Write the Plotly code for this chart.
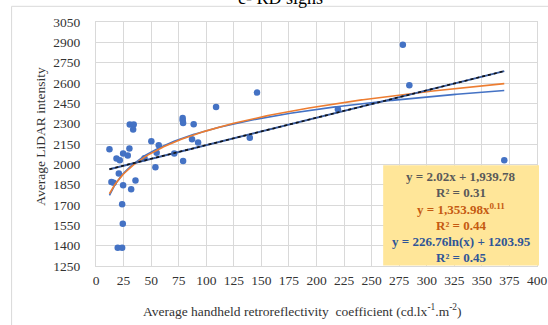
import numpy as np
import plotly.graph_objects as go

# ---- data ----
retro = [12.2, 14.0, 16.0, 18.6, 21.6, 20.7, 24.6, 28.8, 30.3, 30.6, 34.2, 33.7,
         24.6, 31.9, 35.8, 23.7, 24.3, 19.7, 23.7, 50.2, 53.9, 56.9, 44.0, 55.0,
         71.0, 78.6, 78.6, 79.0, 79.0, 87.1, 88.6, 92.6, 108.9, 139.5, 146.0,
         219.4, 278.3, 284.2, 370.3]
intensity = [2111, 1870, 1865, 2043, 2030, 1932, 2080, 2065, 2117, 2293, 2293, 2257,
             1846, 1817, 1881, 1706, 1561, 1384, 1384, 2171, 1979, 2141, 2045, 2085,
             2080, 2342, 2325, 2305, 2025, 2185, 2296, 2161, 2423, 2196, 2529,
             2406, 2883, 2583, 2030]

lin_coef = [2.02, 1939.78]        # y = a x + b
pow_coef = [1353.98, 0.11]        # y = a x^b
log_coef = [226.76, 1203.95]      # y = a ln(x) + b

x_ticks = list(range(0, 401, 25))
y_ticks = list(range(1250, 3051, 150))

eq_lines = ["y = 2.02x + 1,939.78", "R² = 0.31",
            "y = 1,353.98x<sup>0.11</sup>", "R² = 0.44",
            "y = 226.76ln(x) + 1203.95", "R² = 0.45"]

# ---- layout geometry (pixels) ----
W, H = 548, 325
L, R, T, B = 95.5, 11, 21.7, 59.1
pw, ph = W - L - R, H - T - B

def px(x):
    return (x - L) / pw

def py(y):
    return (H - B - y) / ph

xs = np.linspace(min(retro), max(retro), 300)
y_lin = lin_coef[0] * xs + lin_coef[1]
y_pow = pow_coef[0] * xs ** pow_coef[1]
y_log = log_coef[0] * np.log(xs) + log_coef[1]

fig = go.Figure()
fig.add_trace(go.Scatter(x=retro, y=intensity, mode="markers",
                         marker=dict(color="#4472C4", size=6.5), hoverinfo="skip"))
fig.add_trace(go.Scatter(x=xs, y=y_log, mode="lines",
                         line=dict(color="#4472C4", width=1.6), hoverinfo="skip"))
fig.add_trace(go.Scatter(x=xs, y=y_pow, mode="lines",
                         line=dict(color="#ED7D31", width=1.6), hoverinfo="skip"))
fig.add_trace(go.Scatter(x=xs, y=y_lin, mode="lines",
                         line=dict(color="#3A5C9E", width=2), hoverinfo="skip"))
fig.add_trace(go.Scatter(x=xs, y=y_lin, mode="lines",
                         line=dict(color="#111111", width=1.6, dash="dot"), hoverinfo="skip"))

tickfont = dict(family="Liberation Serif", size=13.5, color="#333333")
grid = "#D9D9D9"
fig.update_xaxes(range=[0, 400], tickvals=x_ticks, showgrid=True, gridcolor=grid,
                 gridwidth=1, zeroline=False, showline=True, linecolor=grid, mirror=True,
                 tickfont=tickfont, ticks="", ticklabelstandoff=2, automargin=False)
fig.update_yaxes(range=[1250, 3050], tickvals=y_ticks, showgrid=True, gridcolor=grid,
                 gridwidth=1, zeroline=False, showline=True, linecolor=grid, mirror=True,
                 tickfont=tickfont, ticks="", ticklabelstandoff=12, automargin=False)

shapes = [
    # outer chart border
    dict(type="rect", xref="paper", yref="paper", x0=px(11), x1=px(560),
         y0=py(335), y1=py(6), line=dict(color="#D9D9D9", width=1), layer="below"),
    # equation box
    dict(type="rect", xref="paper", yref="paper", x0=px(383), x1=px(539),
         y0=py(265.5), y1=py(165), fillcolor="#FFE699", line=dict(width=0), layer="above"),
]

eq_colors = ["#595959", "#595959", "#C55A11", "#C55A11", "#2F5597", "#2F5597"]
eq_y = [176, 192.5, 209, 225, 241, 257]
annotations = []
for txt, col, yy in zip(eq_lines, eq_colors, eq_y):
    annotations.append(dict(text="<b>" + txt + "</b>", x=px(461), y=py(yy), xref="paper",
                            yref="paper", showarrow=False, xanchor="center", yanchor="middle",
                            font=dict(family="Liberation Serif", size=13, color=col)))

annotations.append(dict(text="Average handheld retroreflectivity  coefficient (cd.lx<sup>-1</sup>.m<sup>-2</sup>)",
                        x=px(302), y=py(310), xref="paper", yref="paper", showarrow=False,
                        xanchor="center", yanchor="middle",
                        font=dict(family="Liberation Serif", size=13.5, color="#333333")))
annotations.append(dict(text="Average LiDAR intensity", x=px(40), y=py(136), xref="paper",
                        yref="paper", showarrow=False, textangle=-90, xanchor="center",
                        yanchor="middle",
                        font=dict(family="Liberation Serif", size=13.5, color="#333333")))
annotations.append(dict(text="c- RD signs", x=px(280), y=py(-2), xref="paper", yref="paper",
                        showarrow=False, xanchor="center", yanchor="middle",
                        font=dict(family="Liberation Serif", size=18, color="#000000")))

fig.update_layout(width=W, height=H, margin=dict(l=L, r=R, t=T, b=B, pad=0, autoexpand=False),
                  paper_bgcolor="white", plot_bgcolor="white", showlegend=False,
                  shapes=shapes, annotations=annotations)

fig.write_html("out.html", config={"displayModeBar": False},
               post_script="document.body.style.margin='0';document.body.style.overflow='hidden';")
